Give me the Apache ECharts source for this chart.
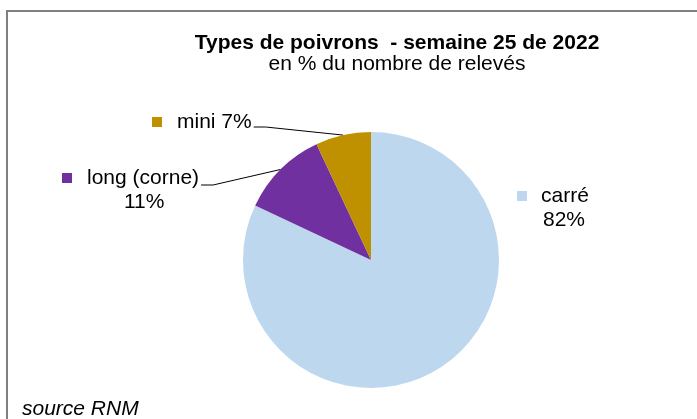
<!DOCTYPE html>
<html>
<head>
<meta charset="utf-8">
<script src="https://cdn.jsdelivr.net/npm/echarts@6/dist/echarts.min.js"></script>
<style>
html,body{margin:0;padding:0;background:#fff;}
#c{width:697px;height:419px;}
</style>
</head>
<body>
<div id="c"></div>
<script>
// ---- data ----
const categories = ['carré', 'long (corne)', 'mini'];
const values = [82, 11, 7];
const valueLabels = ['82%', '11%', '7%'];
const colors = ['#BDD7EE', '#7030A0', '#BF9000'];
const titleText = 'Types de poivrons  - semaine 25 de 2022';
const subtitleText = 'en % du nombre de relevés';
const sourceText = 'source RNM';

// ---- layout (positions of label boxes, not data) ----
const FONT = '"Liberation Sans", Arial, sans-serif';
const FS = 21;
const CX = 371, CY = 260, R = 128;
const labelBoxes = [
  { x: 517, y: 184, gap: 14, line2Offset: 26, twoLines: true, lineDy: 17 },
  { x: 62,  y: 166, gap: 15, line2Offset: 62, twoLines: true, lineDy: 19 },
  { x: 152, y: 110, gap: 15, line2Offset: 0,  twoLines: false, lineDy: 17 }
];

const mctx = document.createElement('canvas').getContext('2d');
mctx.font = FS + 'px ' + FONT;
function tw(s) { return mctx.measureText(s).width; }

function firstLine(i) {
  return labelBoxes[i].twoLines ? categories[i] : categories[i] + ' ' + valueLabels[i];
}

const total = values.reduce((a, b) => a + b, 0);
function midAngle(i) {
  let before = 0;
  for (let k = 0; k < i; k++) before += values[k];
  const frac = (before + values[i] / 2) / total;
  return Math.PI / 2 - frac * 2 * Math.PI; // clockwise from top
}

const dataItems = categories.map((c, i) => {
  const b = labelBoxes[i];
  const rich = {
    sq: { width: 10, height: 10, backgroundColor: colors[i] },
    g: { width: b.gap, height: 10 },
    sp: { width: b.line2Offset, height: 10 },
    t: { fontFamily: FONT, fontSize: FS, color: '#000', lineHeight: 24 }
  };
  let fmt = '{sq|}{g|}{t|' + firstLine(i) + '}';
  if (b.twoLines) fmt += '\n{sp|}{t|' + valueLabels[i] + '}';
  return {
    name: c,
    value: values[i],
    itemStyle: { color: colors[i] },
    label: { formatter: fmt, rich: rich },
    labelLine: { show: i !== 0 }
  };
});

const chart = echarts.init(document.getElementById('c'), null, { renderer: 'canvas' });
chart.setOption({
  animation: false,
  backgroundColor: '#fff',
  title: {
    text: titleText,
    subtext: subtitleText,
    left: 392,
    top: 28,
    textAlign: 'center',
    itemGap: 0,
    textStyle: { fontFamily: FONT, fontSize: FS, fontWeight: 'bold', color: '#000', lineHeight: 21 },
    subtextStyle: { fontFamily: FONT, fontSize: FS, color: '#000', lineHeight: 21 }
  },
  graphic: [
    { type: 'rect', shape: { x: 7, y: 11, width: 700, height: 420 },
      style: { fill: null, stroke: '#7f7f7f', lineWidth: 2 }, silent: true },
    { type: 'text', left: 22, top: 399,
      style: { text: sourceText, font: 'italic ' + FS + 'px ' + FONT, fill: '#000' } }
  ],
  series: [{
    type: 'pie',
    center: [CX, CY],
    radius: R,
    startAngle: 90,
    clockwise: true,
    silent: true,
    data: dataItems,
    label: { show: true, position: 'outside', lineHeight: 24 },
    labelLine: { show: true, lineStyle: { color: '#000', width: 1 } },
    labelLayout: function (p) {
      const i = p.dataIndex;
      const b = labelBoxes[i];
      const res = { x: b.x, y: b.y, align: 'left', verticalAlign: 'top', hideOverlap: false, moveOverlap: null };
      if (i !== 0) {
        const a = midAngle(i);
        const p0 = [CX + R * Math.cos(a), CY - R * Math.sin(a)];
        const endX = b.x + 10 + b.gap + tw(firstLine(i)) + 2;
        const endY = b.y + b.lineDy;
        res.labelLinePoints = [p0, [endX + 12, endY], [endX, endY]];
      }
      return res;
    }
  }]
});
</script>
</body>
</html>
